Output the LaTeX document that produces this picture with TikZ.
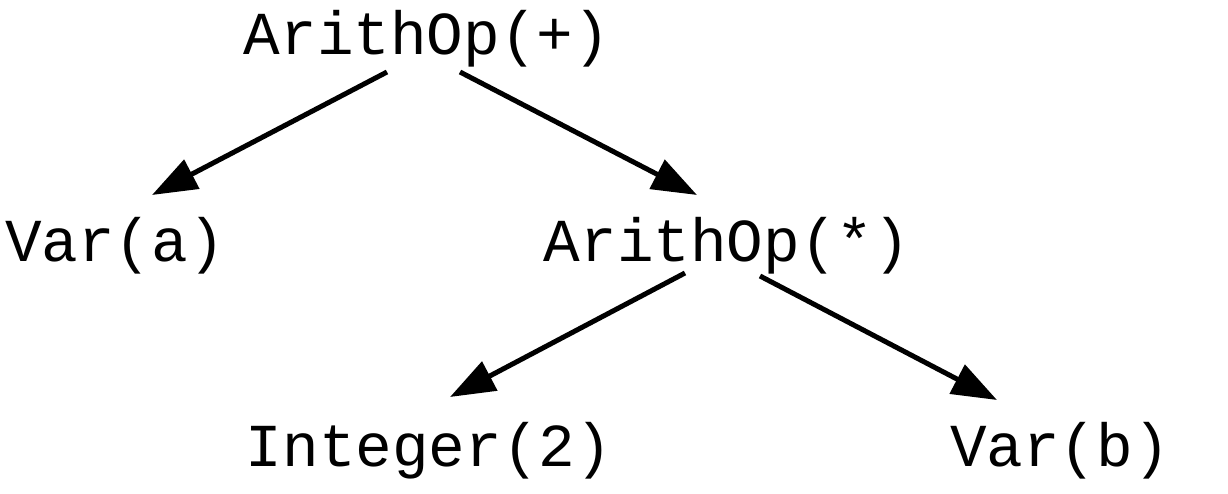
\documentclass[tikz,border=0pt]{standalone}
\usepackage{fontspec}
\setmonofont{Liberation Mono}
\usetikzlibrary{arrows.meta,calc}
\begin{document}
\begin{tikzpicture}[x=1pt,y=1pt,
  lbl/.style={inner sep=0pt,anchor=base,font=\ttfamily\fontsize{61}{70}\selectfont},
  arr/.style={line width=5pt,-{Triangle[length=45pt,width=32pt]}}]
\useasboundingbox (0,0) rectangle (1228,494);
\node[lbl] (p) at (427,439) {ArithOp(+)};
\node[lbl] (a) at (115,232) {Var(a)};
\node[lbl] (m) at (727,232) {ArithOp(*)};
\node[lbl] (i) at (429,27) {Integer(2)};
\node[lbl] (v) at (1060,27) {Var(b)};
\draw[arr] ($(p.base)+(-40,-17)$) -- ($(a.base)+(37,67)$);
\draw[arr] ($(p.base)+(33,-17)$) -- ($(m.base)+(-30,67)$);
\draw[arr] ($(m.base)+(-42,-11)$) -- ($(i.base)+(21,70)$);
\draw[arr] ($(m.base)+(33,-14)$) -- ($(v.base)+(-63,67)$);
\end{tikzpicture}
\end{document}
